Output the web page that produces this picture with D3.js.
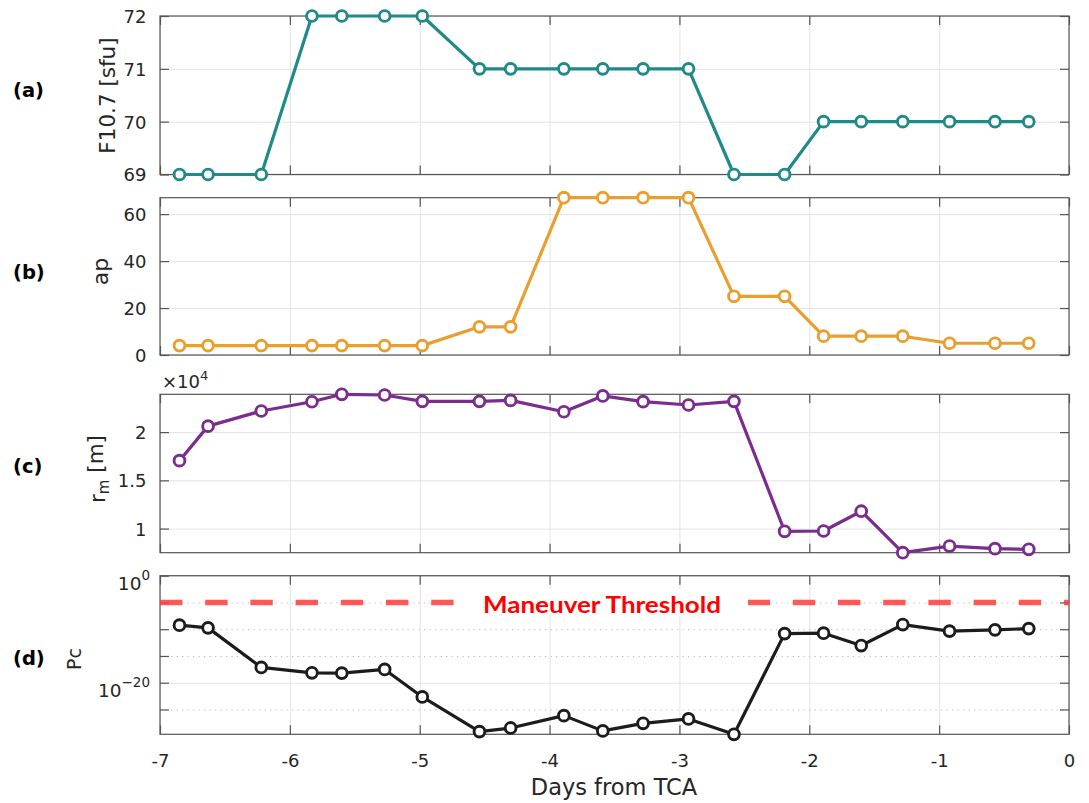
<!DOCTYPE html>
<html>
<head>
<meta charset="utf-8">
<script src="https://cdn.jsdelivr.net/npm/d3@7"></script>
<style>
  body { margin: 0; background: #fff; }
  svg { display: block; font-family: "DejaVu Sans", sans-serif; }
</style>
</head>
<body>
<svg id="fig" width="1089" height="803"></svg>
<script>
// Days before time of closest approach for each conjunction update
const days = [-6.85, -6.63, -6.22, -5.83, -5.60, -5.27, -4.98, -4.54, -4.30, -3.89, -3.59,
              -3.28, -2.93, -2.58, -2.19, -1.89, -1.60, -1.28, -0.92, -0.57, -0.31];
// Solar flux index F10.7 [sfu]
const f107 = [69, 69, 69, 72, 72, 72, 72, 71, 71, 71, 71, 71, 71, 69, 69, 70, 70, 70, 70, 70, 70];
// Geomagnetic ap index
const ap = [4, 4, 4, 4, 4, 4, 4, 12, 12, 67, 67, 67, 67, 25, 25, 8, 8, 8, 5, 5, 5];
// Miss distance r_m [m]
const rm = [17040, 20620, 22190, 23150, 23920, 23850, 23190, 23190, 23290, 22110, 23750,
            23160, 22810, 23190, 9720, 9750, 11800, 7500, 8190, 7920, 7850];
// Probability of collision
const pc = [5.6e-10, 1.8e-10, 7.1e-18, 7.2e-19, 6.3e-19, 3.0e-18, 2.2e-23, 7.4e-30, 3.5e-29,
            7.1e-27, 1.0e-29, 2.6e-28, 1.7e-27, 2.3e-30, 1.5e-11, 1.8e-11, 8.9e-14, 7.4e-10,
            4.4e-11, 7.6e-11, 1.3e-10];
const threshold = 1e-5;

// Tick values
const dayTicks = [-7, -6, -5, -4, -3, -2, -1, 0];
const f107Ticks = [69, 70, 71, 72];
const apTicks = [0, 20, 40, 60];
const rmTicks = [10000, 15000, 20000];
const pcMajorTicks = [1e0, 1e-20];
const pcMinorTicks = [1e-5, 1e-10, 1e-15, 1e-25];

const svg = d3.select("#fig");
const X0 = 160, X1 = 1069;
const x = d3.scaleLinear().domain([-7, 0]).range([X0, X1]);

const GRID = "#e3e3e3", AXIS = "#555", TEXT = "#262626";
const TICK = 9, TICKFONT = 18;

function panel(top, bottom, y, yTicks, opts) {
  const g = svg.append("g");
  const h = bottom - top, w = X1 - X0;

  // vertical grid
  g.append("g").attr("transform", `translate(0,${bottom})`)
    .call(d3.axisBottom(x).tickValues(dayTicks).tickSize(-h).tickFormat(""))
    .call(s => s.select(".domain").remove())
    .call(s => s.selectAll("line").attr("stroke", GRID));

  // horizontal grid
  g.append("g").attr("transform", `translate(${X0},0)`)
    .call(d3.axisLeft(y).tickValues(yTicks).tickSize(-w).tickFormat(""))
    .call(s => s.select(".domain").remove())
    .call(s => s.selectAll("line").attr("stroke", GRID));

  if (opts.minor) {
    g.append("g").attr("transform", `translate(${X0},0)`)
      .call(d3.axisLeft(y).tickValues(opts.minor).tickSize(-w).tickFormat(""))
      .call(s => s.select(".domain").remove())
      .call(s => s.selectAll("line").attr("stroke", "#bdbdbd").attr("stroke-dasharray", "1.3 4.2"));
  }

  // frame
  g.append("rect").attr("x", X0).attr("y", top).attr("width", w).attr("height", h)
    .attr("fill", "none").attr("stroke", AXIS).attr("stroke-width", 1.2);

  const allY = opts.minor ? yTicks.concat(opts.minor) : yTicks;
  const styleTicks = s => {
    s.select(".domain").remove();
    s.selectAll("line").attr("stroke", AXIS).attr("stroke-width", 1.2);
  };
  // inward ticks on all four sides
  g.append("g").attr("transform", `translate(0,${top})`)
    .call(d3.axisTop(x).tickValues(dayTicks).tickSizeInner(-TICK).tickSizeOuter(0).tickFormat(""))
    .call(styleTicks);
  const xb = g.append("g").attr("transform", `translate(0,${bottom})`)
    .call(d3.axisBottom(x).tickValues(dayTicks).tickSizeInner(-TICK).tickSizeOuter(0)
      .tickFormat(opts.xLabels ? d3.format("d") : ""))
    .call(styleTicks);
  if (opts.xLabels) {
    xb.selectAll("text").attr("y", 32.6).attr("dy", null)
      .attr("fill", TEXT).attr("font-size", TICKFONT).attr("font-family", "DejaVu Sans")
      .text(d => d === 0 ? "0" : String(d).replace("\u2212", "-"));
  }
  g.append("g").attr("transform", `translate(${X1},0)`)
    .call(d3.axisRight(y).tickValues(allY).tickSizeInner(-TICK).tickSizeOuter(0).tickFormat(""))
    .call(styleTicks);
  const yl = g.append("g").attr("transform", `translate(${X0},0)`)
    .call(d3.axisLeft(y).tickValues(opts.minor ? allY : yTicks).tickSizeInner(-TICK).tickSizeOuter(0)
      .tickPadding(opts.tickPad || 13.5).tickFormat(opts.fmt || d3.format("d")))
    .call(styleTicks);
  yl.selectAll("text").attr("fill", TEXT).attr("font-size", TICKFONT)
    .attr("font-family", "DejaVu Sans").attr("dy", "0.36em");
  return { g, yl };
}

function series(g, y, vals, color) {
  const pts = days.map((d, i) => [d, vals[i]]);
  g.append("path").datum(pts)
    .attr("fill", "none").attr("stroke", color).attr("stroke-width", 3.2)
    .attr("stroke-linejoin", "round")
    .attr("d", d3.line().x(d => x(d[0])).y(d => y(d[1])));
  g.append("g").selectAll("circle").data(pts).join("circle")
    .attr("cx", d => x(d[0])).attr("cy", d => y(d[1])).attr("r", 5.4)
    .attr("fill", "#fff").attr("stroke", color).attr("stroke-width", 2.9);
}

function yLabel(cx, cy, size) {
  return svg.append("text")
    .attr("transform", `translate(${cx},${cy}) rotate(-90)`)
    .attr("text-anchor", "middle").attr("dy", "0.36em")
    .attr("font-size", size).attr("fill", TEXT);
}

function tag(txt, cy) {
  svg.append("text").attr("x", 13).attr("y", cy).attr("dy", "0.36em")
    .attr("font-weight", "bold").attr("font-size", 19.5).attr("fill", "#000").text(txt);
}

// (a) F10.7
const yA = d3.scaleLinear().domain(d3.extent(f107)).range([174.5, 16]);
const pA = panel(16, 174.5, yA, f107Ticks, {});
series(pA.g, yA, f107, "#1f8a87");
yLabel(107, 95.5, 21.5).text("F10.7 [sfu]");
tag("(a)", 90);

// (b) ap
const yB = d3.scaleLinear().domain([0, d3.max(ap)]).range([355, 197.7]);
const pB = panel(197.7, 355, yB, apTicks, {});
series(pB.g, yB, ap, "#e89f2f");
yLabel(100, 271.5, 22).text("ap");
tag("(b)", 271.7);

// (c) miss distance
const yC = d3.scaleLinear().domain(d3.extent(rm)).range([552.7, 394.3]);
const pC = panel(394.3, 552.7, yC, rmTicks, { fmt: d => String(d / 1e4) });
series(pC.g, yC, rm, "#7b2d8e");
const rl = yLabel(97, 469, 21.5);
rl.append("tspan").text("r");
rl.append("tspan").attr("font-size", 15).attr("dy", "0.25em").text("m");
rl.append("tspan").attr("dy", "-0.25em").text(" [m]");
const ex = svg.append("text").attr("x", 162).attr("y", 388).attr("font-size", 18).attr("fill", TEXT);
ex.append("tspan").text("\u00d710");
ex.append("tspan").attr("font-size", 13).attr("dy", -8).text("4");
tag("(c)", 466);

// (d) probability of collision
const yD = d3.scaleLog().domain([d3.min(pc), 1]).range([734.3, 575.7]);
const pD = panel(575.7, 734.3, yD, pcMajorTicks, { minor: pcMinorTicks, xLabels: true, tickPad: 10 });
// exponent labels on major ticks only
pD.yl.selectAll(".tick").each(function (d) {
  const t = d3.select(this).select("text");
  const isMajor = pcMajorTicks.includes(d);
  t.text(null);
  if (!isMajor) return;
  const e = Math.round(Math.log10(d));
  t.attr("dy", null).attr("y", 14);
  t.append("tspan").attr("font-size", 18.5).text("10");
  t.append("tspan").attr("font-size", 13.5).attr("dy", -10).text(e < 0 ? "\u2212" + (-e) : String(e));
});

// maneuver threshold
pD.g.append("line")
  .attr("x1", X0).attr("x2", X1).attr("y1", yD(threshold)).attr("y2", yD(threshold))
  .attr("stroke", "#ff3b3b").attr("stroke-opacity", 0.85).attr("stroke-width", 5.5)
  .attr("stroke-dasharray", "22.4 22.8");
pD.g.append("rect").attr("x", 456).attr("y", yD(threshold) - 13).attr("width", 292).attr("height", 26)
  .attr("fill", "#fff");
pD.g.append("text").attr("x", 602).attr("y", yD(threshold) + 10.5)
  .attr("text-anchor", "middle").attr("font-family", "Lato, sans-serif").attr("font-weight", "bold")
  .attr("font-size", 23).attr("fill", "#ff0000")
  .attr("textLength", 238).attr("lengthAdjust", "spacingAndGlyphs")
  .text("Maneuver Threshold");

series(pD.g, yD, pc, "#1c1c1c");
yLabel(74, 659, 19).text("Pc");
tag("(d)", 658);

// x axis title
svg.append("text").attr("x", 614).attr("y", 795).attr("text-anchor", "middle")
  .attr("font-size", 22.5).attr("fill", TEXT).text("Days from TCA");
</script>
</body>
</html>
